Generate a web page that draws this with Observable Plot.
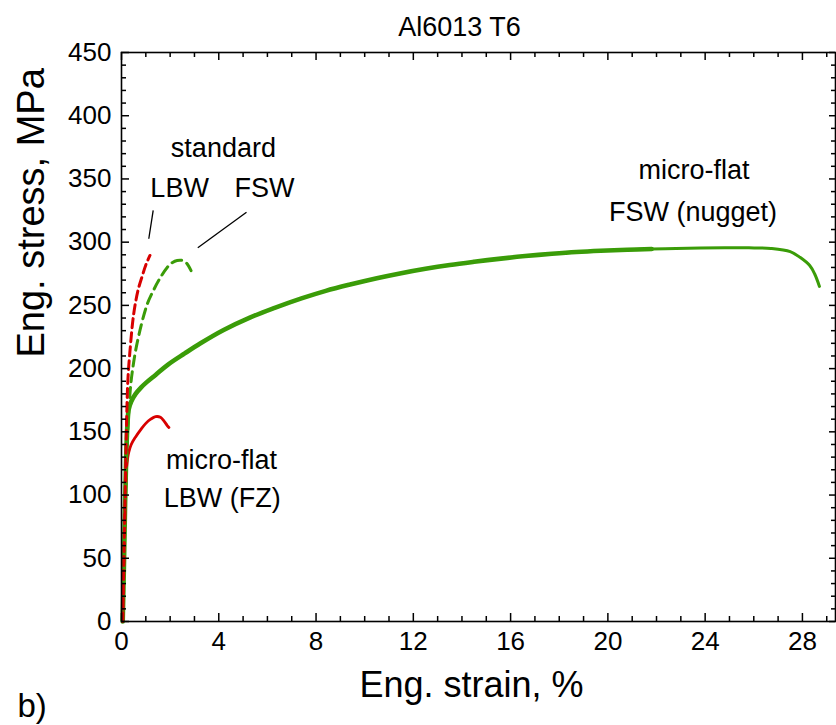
<!DOCTYPE html>
<html>
<head>
<meta charset="utf-8">
<script src="https://cdn.jsdelivr.net/npm/d3@7"></script>
<script src="https://cdn.jsdelivr.net/npm/@observablehq/plot@0.6"></script>
<style>
  html, body { margin: 0; padding: 0; background: white; }
  #chart svg { display: block; }
</style>
</head>
<body>
<div id="chart"></div>
<script>
// ---- Data ----
// micro-flat FSW (nugget) – green solid
const fswNuggetStrain = [0.05, 0.1, 0.15, 0.2, 0.25, 0.3, 0.4, 0.58, 0.8, 1.05, 1.4, 1.9, 2.6, 3.25, 4.2, 5.3, 6.3, 7.4, 8.4, 9.4, 10.5, 11.5, 12.5, 13.5, 14.5, 15.6, 16.6, 17.7, 18.7, 19.7, 20.8, 21.8, 22.8, 23.8, 24.8, 25.8, 26.7, 27.5, 27.9, 28.3, 28.5, 28.7];
const fswNuggetStress = [0, 45, 95, 135, 158, 168, 174, 180, 185, 189.5, 195, 203, 212, 220, 230.5, 240.5, 248, 255.5, 261.5, 266.5, 271.5, 275.5, 279, 282, 284.5, 287, 289, 290.8, 292.2, 293.2, 294, 294.6, 295, 295.3, 295.5, 295.5, 295, 292.5, 288, 281.5, 275, 265];
// micro-flat LBW (FZ) – red solid
const lbwFzStrain = [0.05, 0.1, 0.15, 0.2, 0.26, 0.3, 0.4, 0.58, 0.8, 0.99, 1.2, 1.4, 1.6, 1.75, 1.88, 1.95];
const lbwFzStress = [0, 45, 90, 120, 130, 134, 140, 146, 152, 156.5, 160, 162, 161.5, 158.5, 155, 153.5];
// standard LBW – red dashed
const stdLbwStrain = [0.05, 0.1, 0.15, 0.2, 0.26, 0.34, 0.5, 0.68, 0.85, 1.0, 1.17];
const stdLbwStress = [0, 50, 100, 150, 190, 212, 243, 262, 273, 282, 289.5];
// standard FSW – green dashed
const stdFswStrain = [0.05, 0.12, 0.2, 0.28, 0.36, 0.44, 0.64, 1.05, 1.33, 1.6, 1.88, 2.1, 2.29, 2.5, 2.67, 2.86];
const stdFswStress = [0, 60, 120, 160, 183, 197, 220, 250.5, 262.5, 272, 280, 284, 285.5, 285.5, 283.5, 277.5];

// Axis ticks
const xMajorTicks = [0, 4, 8, 12, 16, 20, 24, 28];
const xMinorTicks = d3.range(0, 30).filter(v => v % 4 !== 0);
const yMajorTicks = [0, 50, 100, 150, 200, 250, 300, 350, 400, 450];
const yMinorTicks = d3.range(0, 451, 10).filter(v => v % 50 !== 0);

// Text
const chartTitle = "Al6013 T6";
const xTitle = "Eng. strain, %";
const yTitle = "Eng. stress, MPa";
const panelLabel = "b)";
const annotationText = ["standard", "LBW", "FSW", "micro-flat", "FSW (nugget)", "micro-flat", "LBW (FZ)"];
const annotationStrain = [4.19, 2.39, 5.88, 23.54, 23.5, 4.11, 4.14];
const annotationStress = [374.5, 342.9, 342.9, 356.4, 323.2, 127.8, 97.2];
const leaderStrain1 = [1.303, 5.14];
const leaderStress1 = [325.1, 323.7];
const leaderStrain2 = [1.122, 3.137];
const leaderStress2 = [302.7, 295.6];

// ---- Build tables ----
const zip = (xs, ys) => xs.map((x, i) => ({strain: x, stress: ys[i]}));
const fswNugget = zip(fswNuggetStrain, fswNuggetStress);
const lbwFz = zip(lbwFzStrain, lbwFzStress);
const stdLbw = zip(stdLbwStrain, stdLbwStress);
const stdFsw = zip(stdFswStrain, stdFswStress);
const annotations = annotationText.map((t, i) => ({text: t, strain: annotationStrain[i], stress: annotationStress[i]}));
const leaders = leaderStrain1.map((x, i) => ({x1: x, y1: leaderStress1[i], x2: leaderStrain2[i], y2: leaderStress2[i]}));

const GREEN = "#3a9c08";
const RED = "#d80000";
const W = 836, H = 725;
const mT = 52, mB = 104, mL = 121, mR = 1;
const plotH = H - mT - mB, plotW = W - mL - mR;
const FONT = "'Liberation Sans', Arial, Helvetica, sans-serif";

const chart = Plot.plot({
  width: W,
  height: H,
  marginTop: mT,
  marginBottom: mB,
  marginLeft: mL,
  marginRight: mR,
  x: {domain: [0, 29.36]},
  y: {domain: [0, 450]},
  style: {fontFamily: FONT, background: "white", color: "black", overflow: "visible"},
  marks: [
    // curves
    Plot.line(fswNugget.filter(d => d.strain <= 21.8), {x: "strain", y: "stress", stroke: GREEN, strokeWidth: 4.6, curve: "catmull-rom"}),
    Plot.line(fswNugget.filter(d => d.strain >= 20.8), {x: "strain", y: "stress", stroke: GREEN, strokeWidth: 3, curve: "catmull-rom"}),
    Plot.line(lbwFz, {x: "strain", y: "stress", stroke: RED, strokeWidth: 2.8, curve: "catmull-rom"}),
    Plot.line(stdFsw, {x: "strain", y: "stress", stroke: GREEN, strokeWidth: 3, strokeDasharray: "10,6", curve: "catmull-rom"}),
    Plot.line(stdLbw, {x: "strain", y: "stress", stroke: RED, strokeWidth: 3, strokeDasharray: "9,5", curve: "catmull-rom"}),
    // leader lines
    Plot.link(leaders, {x1: "x1", y1: "y1", x2: "x2", y2: "y2", stroke: "black", strokeWidth: 1.3}),
    // annotations
    Plot.text(annotations, {x: "strain", y: "stress", text: "text", fontSize: 27, fill: "black", textAnchor: "middle", lineAnchor: "middle"}),
    // frame and inward ticks
    Plot.frame({stroke: "black", strokeWidth: 1.6}),
    Plot.tickX(xMajorTicks, {x: d => d, insetTop: plotH - 8, stroke: "black", strokeWidth: 1.5}),
    Plot.tickX(xMinorTicks, {x: d => d, insetTop: plotH - 5, stroke: "black", strokeWidth: 1.5}),
    Plot.tickX(xMajorTicks, {x: d => d, insetBottom: plotH - 8, stroke: "black", strokeWidth: 1.5}),
    Plot.tickX(xMinorTicks, {x: d => d, insetBottom: plotH - 5, stroke: "black", strokeWidth: 1.5}),
    Plot.tickY(yMajorTicks, {y: d => d, insetRight: plotW - 8, stroke: "black", strokeWidth: 1.5}),
    Plot.tickY(yMinorTicks, {y: d => d, insetRight: plotW - 5, stroke: "black", strokeWidth: 1.5}),
    Plot.tickY(yMajorTicks, {y: d => d, insetLeft: plotW - 6, stroke: "black", strokeWidth: 1.5}),
    Plot.tickY(yMinorTicks, {y: d => d, insetLeft: plotW - 4, stroke: "black", strokeWidth: 1.5}),
    // tick labels
    Plot.axisX({ticks: xMajorTicks, tickSize: 0, tickPadding: 10, fontSize: 26, label: null, tickFormat: d => String(d)}),
    Plot.axisY({ticks: yMajorTicks, tickSize: 0, tickPadding: 10, fontSize: 26, label: null, tickFormat: d => String(d)}),
    // titles
    Plot.text([chartTitle], {frameAnchor: "top", dx: -19, dy: -25.6, fontSize: 27, fill: "black", lineAnchor: "middle"}),
    Plot.text([xTitle], {frameAnchor: "bottom", dx: -7, dy: 63.5, fontSize: 36, fill: "black", lineAnchor: "middle"}),
    Plot.text([yTitle], {frameAnchor: "left", dx: -90, dy: 20.5, rotate: -90, fontSize: 38, fill: "black", lineAnchor: "middle"}),
    Plot.text([panelLabel], {frameAnchor: "bottom-left", dx: -104, dy: 85.4, fontSize: 33, fill: "black", textAnchor: "start", lineAnchor: "middle"})
  ]
});
document.getElementById("chart").appendChild(chart);
</script>
</body>
</html>
